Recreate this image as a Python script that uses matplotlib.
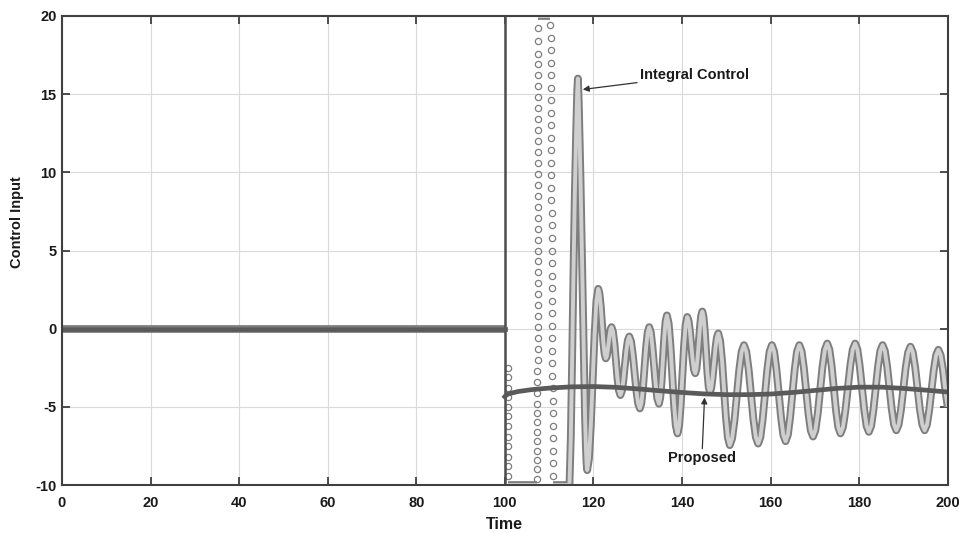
"""Control input of the integral controller versus the proposed one."""

import numpy as np
import matplotlib.pyplot as plt

plt.rcParams['font.family'] = ['Liberation Sans', 'DejaVu Sans']
plt.rcParams['font.weight'] = 'bold'
plt.rcParams['axes.unicode_minus'] = False

switch_time = 100

# proposed controller
proposed_pre_t = [0, 100]
proposed_pre_u = [0, 0]
proposed_t = [100, 100.3, 101, 103, 106, 110, 115, 120, 125, 130, 135, 140,
              145, 150, 155, 160, 165, 170, 175, 180, 185, 190, 195, 200]
proposed_u = [-4.35, -4.25, -4.15, -4.02, -3.9, -3.8, -3.72, -3.7, -3.75,
              -3.85, -3.97, -4.08, -4.17, -4.22, -4.22, -4.18, -4.08, -3.95,
              -3.82, -3.74, -3.74, -3.82, -3.93, -4.05]

# integral controller: flat / saturated stretches
int_pre_t = [0, 100]
int_pre_u = [0, 0]
int_low1_t = [100.8, 107.3]
int_low1_u = [-10, -10]
int_high_t = [107.6, 110.3]
int_high_u = [20, 20]

# integral controller: sparse steep columns
col1_t = 100.8
col1_u = [-2.5, -3.1, -3.8, -4.4, -5.0, -5.6, -6.2, -6.9, -7.5, -8.2, -8.8,
          -9.4]
col2_t = (107.3, 107.6)
col2_u = [-9.6, -9.0, -8.4, -7.8, -7.2, -6.6, -6.0, -5.4, -4.8, -4.1, -3.4,
          -2.7, -2.0, -1.3, -0.6, 0.1, 0.8, 1.5, 2.2, 2.9, 3.6, 4.3, 5.0, 5.7,
          6.4, 7.1, 7.8, 8.5, 9.2, 9.9, 10.6, 11.3, 12.0, 12.7, 13.4, 14.1,
          14.8, 15.5, 16.2, 16.9, 17.6, 18.4, 19.2]
col3_t = (110.3, 110.9)
col3_u = [19.4, 18.6, 17.8, 17.0, 16.2, 15.4, 14.6, 13.8, 13.0, 12.2, 11.4,
          10.6, 9.8, 9.0, 8.2, 7.4, 6.6, 5.8, 5.0, 4.2, 3.4, 2.6, 1.8, 1.0,
          0.2, -0.6, -1.4, -2.2, -3.0, -3.8, -4.6, -5.4, -6.2, -7.0, -7.8,
          -8.6, -9.4]

# integral controller: main response after the last saturation
int_t = [110.9, 114.6, 114.9, 115.2, 115.5, 115.8, 116.1, 116.35, 116.5,
         116.7, 116.9, 117.1, 117.3, 117.5, 117.7, 117.9, 118.1, 118.3, 118.45, 118.6,
         119.02, 119.43, 119.85, 120.27, 120.68, 121.1,
         121.38, 121.67, 121.95, 122.23, 122.52, 122.8,
         123.02, 123.23, 123.45, 123.67, 123.88, 124.1,
         124.43, 124.77, 125.1, 125.43, 125.77, 126.1,
         126.43, 126.77, 127.1, 127.43, 127.77, 128.1,
         128.5, 128.9, 129.3, 129.7, 130.1, 130.5,
         130.85, 131.2, 131.55, 131.9, 132.25, 132.6,
         132.97, 133.33, 133.7, 134.07, 134.43, 134.8,
         135.1, 135.4, 135.7, 136.0, 136.3, 136.6,
         137.0, 137.4, 137.8, 138.2, 138.6, 139.0,
         139.37, 139.73, 140.1, 140.47, 140.83, 141.2,
         141.5, 141.8, 142.1, 142.4, 142.7, 143.0,
         143.27, 143.53, 143.8, 144.07, 144.33, 144.6,
         144.88, 145.17, 145.45, 145.73, 146.02, 146.3,
         146.62, 146.93, 147.25, 147.57, 147.88, 148.2,
         148.63, 149.07, 149.5, 149.93, 150.37, 150.8,
         151.33, 151.87, 152.4, 152.93, 153.47, 154.0,
         154.53, 155.07, 155.6, 156.13, 156.67, 157.2,
         157.72, 158.23, 158.75, 159.27, 159.78, 160.3,
         160.82, 161.33, 161.85, 162.37, 162.88, 163.4,
         163.92, 164.43, 164.95, 165.47, 165.98, 166.5,
         167.02, 167.53, 168.05, 168.57, 169.08, 169.6,
         170.13, 170.67, 171.2, 171.73, 172.27, 172.8,
         173.3, 173.8, 174.3, 174.8, 175.3, 175.8,
         176.35, 176.9, 177.45, 178.0, 178.55, 179.1,
         179.62, 180.13, 180.65, 181.17, 181.68, 182.2,
         182.72, 183.23, 183.75, 184.27, 184.78, 185.3,
         185.82, 186.33, 186.85, 187.37, 187.88, 188.4,
         188.93, 189.47, 190.0, 190.53, 191.07, 191.6,
         192.13, 192.67, 193.2, 193.73, 194.27, 194.8,
         195.32, 195.83, 196.35, 196.87, 197.38, 197.9,
         198.42, 198.93, 199.45, 200.0]
int_u = [-10, -10, -7.0, -2.0, 3.5, 8.5, 12.5, 15.2, 16.0,
         14.5, 12.0, 9.5, 6.5, 3.3, 0.2, -2.8, -5.5, -7.5, -8.6, -9.05,
         -8.27, -6.15, -3.25, -0.35, 1.77, 2.55,
         2.25, 1.44, 0.33, -0.79, -1.6, -1.9,
         -1.77, -1.4, -0.9, -0.4, -0.03, 0.1,
         -0.19, -0.99, -2.08, -3.16, -3.96, -4.25,
         -4.0, -3.31, -2.38, -1.44, -0.75, -0.5,
         -0.81, -1.65, -2.8, -3.95, -4.79, -5.1,
         -4.75, -3.8, -2.5, -1.2, -0.25, 0.1,
         -0.23, -1.13, -2.35, -3.58, -4.47, -4.8,
         -4.42, -3.39, -1.98, -0.56, 0.47, 0.85,
         0.34, -1.04, -2.93, -4.81, -6.19, -6.7,
         -6.2, -4.84, -2.98, -1.11, 0.25, 0.75,
         0.51, -0.15, -1.05, -1.95, -2.61, -2.85,
         -2.59, -1.86, -0.88, 0.11, 0.84, 1.1,
         0.75, -0.19, -1.48, -2.76, -3.7, -4.05,
         -3.8, -3.11, -2.18, -1.24, -0.55, -0.3,
         -0.78, -2.09, -3.88, -5.66, -6.97, -7.45,
         -7.02, -5.85, -4.25, -2.65, -1.48, -1.05,
         -1.47, -2.63, -4.2, -5.78, -6.93, -7.35,
         -6.93, -5.78, -4.2, -2.63, -1.47, -1.05,
         -1.46, -2.59, -4.13, -5.66, -6.79, -7.2,
         -6.79, -5.66, -4.13, -2.59, -1.46, -1.05,
         -1.44, -2.51, -3.98, -5.44, -6.51, -6.9,
         -6.5, -5.41, -3.93, -2.44, -1.35, -0.95,
         -1.34, -2.39, -3.83, -5.26, -6.31, -6.7,
         -6.31, -5.26, -3.83, -2.39, -1.34, -0.95,
         -1.33, -2.36, -3.78, -5.19, -6.22, -6.6,
         -6.23, -5.21, -3.83, -2.44, -1.42, -1.05,
         -1.42, -2.41, -3.78, -5.14, -6.13, -6.5,
         -6.14, -5.16, -3.83, -2.49, -1.51, -1.15,
         -1.51, -2.49, -3.83, -5.16, -6.14, -6.5,
         -6.15, -5.21, -3.93, -2.64, -1.70, -1.35,
         -1.69, -2.61, -3.88, -5.0]

x_ticks = list(range(0, 201, 20))
y_ticks = list(range(-10, 21, 5))

RING = '#7e7e7e'
RING_FILL = '#cfcfcf'
DARK = '#5a5a5a'


def tube(ax, t, u):
    # the dense rings of the original read as a hollow grey band
    ax.plot(t, u, color=RING, lw=5.6, solid_joinstyle='round',
            solid_capstyle='butt', zorder=2)
    ax.plot(t, u, color=RING_FILL, lw=2.8, solid_joinstyle='round',
            solid_capstyle='butt', zorder=2.1)


def rings(ax, t, u):
    ax.plot(t, u, linestyle='none', marker='o', ms=4.5, mfc='none',
            mec=RING, mew=0.9, zorder=2.2)


fig = plt.figure(figsize=(9.68, 5.33), dpi=100)
ax = fig.add_axes([0.064, 0.090, 0.915, 0.880])

ax.grid(True, color='#dadada', lw=0.8)
ax.set_axisbelow(True)

tube(ax, int_pre_t, int_pre_u)
tube(ax, int_low1_t, int_low1_u)
tube(ax, int_high_t, int_high_u)
assert len(int_t) == len(int_u)
tube(ax, int_t, int_u)

rings(ax, [col1_t] * len(col1_u), col1_u)
rings(ax, np.linspace(*col2_t, len(col2_u)), col2_u)
rings(ax, np.linspace(*col3_t, len(col3_u)), col3_u)

ax.axvline(switch_time, color='#4d4d4d', lw=1.8, zorder=2.5)

ax.plot(proposed_pre_t, proposed_pre_u, color=DARK, lw=3.4, zorder=3)
ax.plot(proposed_t, proposed_u, color=DARK, lw=3.4, zorder=3)

arrow = dict(arrowstyle='-|>', color='#333333', lw=0.9, mutation_scale=9,
             shrinkA=0, shrinkB=0)
ax.annotate('Integral Control', xy=(117.6, 15.3), xytext=(130.5, 16.2),
            ha='left', va='center', fontsize=10.5, fontweight='bold',
            color='#1a1a1a', arrowprops=arrow, zorder=5)
ax.annotate('Proposed', xy=(145.1, -4.4), xytext=(144.5, -8.3),
            ha='center', va='center', fontsize=10.5, fontweight='bold',
            color='#1a1a1a', arrowprops=arrow, zorder=5)

ax.set_xlim(0, 200)
ax.set_ylim(-10, 20)
ax.set_xticks(x_ticks)
ax.set_yticks(y_ticks)
ax.tick_params(direction='in', length=5.5, width=1.3, colors='#404040',
               labelcolor='#1a1a1a', labelsize=10.5, top=True, right=True)
ax.tick_params(axis='x', pad=8)
ax.tick_params(axis='y', pad=4)
for lab in ax.get_xticklabels() + ax.get_yticklabels():
    lab.set_fontweight('bold')
for sp in ax.spines.values():
    sp.set_color('#404040')
    sp.set_linewidth(1.5)
    sp.set_zorder(4)

ax.set_xlabel('Time', fontsize=11.5, fontweight='bold', color='#1a1a1a',
              labelpad=5)
ax.set_ylabel('Control Input', fontsize=10.5, fontweight='bold',
              color='#1a1a1a', labelpad=8)
ax.yaxis.set_label_coords(-0.043, 0.56)

fig.savefig('out.png', dpi=100)
